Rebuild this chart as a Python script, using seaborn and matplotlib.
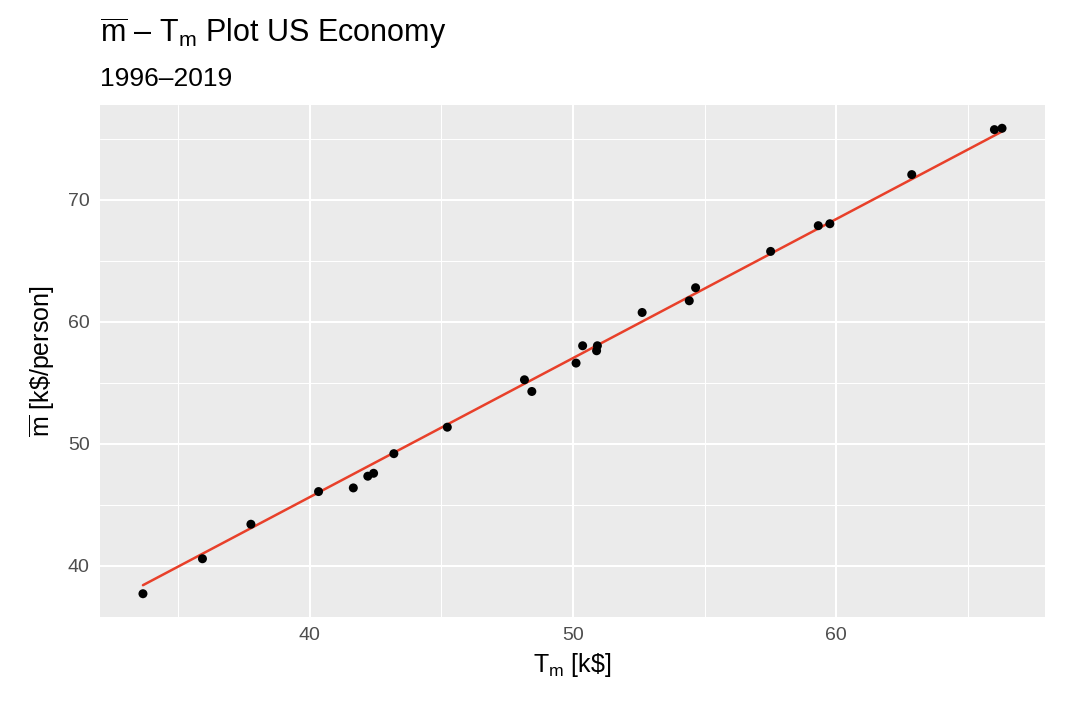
import numpy as np
import pandas as pd
import matplotlib
matplotlib.use('Agg')
import matplotlib.pyplot as plt
import seaborn as sns
from matplotlib.ticker import MultipleLocator

# T_m [k$] and mean money per person [k$/person], 1996-2019
t_m = [33.67, 35.93, 37.77, 40.34, 41.66, 42.21, 42.43, 43.20, 45.23, 48.16,
       48.44, 50.12, 50.37, 50.93, 50.90, 52.63, 54.42, 54.66, 57.51, 59.32,
       59.76, 62.87, 66.01, 66.30]
m_bar = [37.70, 40.57, 43.40, 46.08, 46.38, 47.34, 47.58, 49.19, 51.36, 55.25,
         54.29, 56.62, 58.04, 58.04, 57.63, 60.77, 61.73, 62.80, 65.78, 67.89,
         68.05, 72.08, 75.77, 75.88]

# fitted line shown in the chart (m = slope * T_m + intercept)
fit_slope = 1.1405
fit_intercept = 0.0

df = pd.DataFrame({'Tm': t_m, 'm': m_bar})
fit_x = np.array([min(t_m), max(t_m)])
fit_df = pd.DataFrame({'Tm': fit_x, 'm': fit_slope * fit_x + fit_intercept})

sns.set_theme(style='darkgrid')
plt.rcParams['font.family'] = ['Liberation Sans', 'DejaVu Sans']
plt.rcParams['mathtext.fontset'] = 'custom'
plt.rcParams['mathtext.rm'] = 'Liberation Sans'
plt.rcParams['mathtext.it'] = 'Liberation Sans:italic'
plt.rcParams['text.color'] = 'black'

fig = plt.figure(figsize=(10.8, 7.08), dpi=100)
ax = fig.add_axes([100 / 1080, 1 - 617 / 708, 945 / 1080, 512 / 708])
ax.set_facecolor('#EBEBEB')

sns.lineplot(data=fit_df, x='Tm', y='m', color='#E8402A', lw=1.8, ax=ax, zorder=2)
sns.scatterplot(data=df, x='Tm', y='m', color='black', s=42, edgecolor='none',
                ax=ax, zorder=3)

ax.margins(0.05)
ax.xaxis.set_major_locator(MultipleLocator(10))
ax.yaxis.set_major_locator(MultipleLocator(10))
ax.xaxis.set_minor_locator(MultipleLocator(5))
ax.yaxis.set_minor_locator(MultipleLocator(5))
ax.grid(which='major', color='white', lw=1.5)
ax.grid(which='minor', color='white', lw=0.75)
ax.set_axisbelow(True)
for s in ax.spines.values():
    s.set_visible(False)

ax.tick_params(which='major', length=4.5, width=1.1, color='#333333',
               labelsize=14, labelcolor='#4D4D4D', pad=3)
ax.tick_params(which='minor', length=0)

ax.set_xlabel(r'T$_{\mathrm{m}}$ [k\$]', fontsize=18, color='black', labelpad=5)
ax.set_ylabel(r'$\overline{\mathrm{m}}$ [k\$/person]', fontsize=18, color='black', labelpad=8)

fig.text(100 / 1080, 1 - 42 / 708, r'$\overline{\mathrm{m}}$ – T$_{\mathrm{m}}$ Plot US Economy',
         fontsize=22, va='baseline', ha='left', color='black')
fig.text(100 / 1080, 1 - 86 / 708, '1996–2019', fontsize=19, va='baseline', ha='left',
         color='black')

fig.savefig('out.png', dpi=100, facecolor='white')
